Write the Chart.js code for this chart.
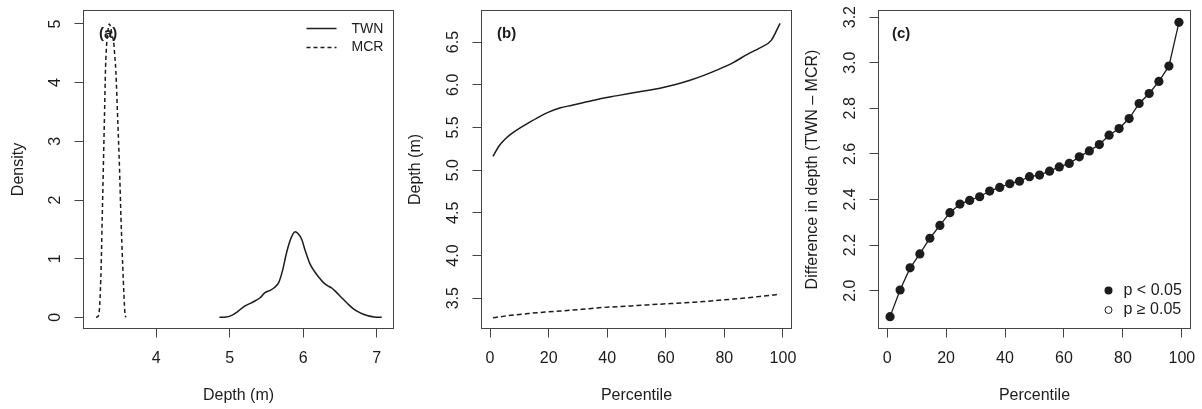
<!DOCTYPE html>
<html>
<head>
<meta charset="utf-8">
<title>Depth: TWN vs MCR</title>
<script src="https://cdn.jsdelivr.net/npm/chart.js@4.4.1/dist/chart.umd.min.js"></script>
<style>
  html, body { margin: 0; padding: 0; background: #fff; }
  #wrap { position: relative; width: 1202px; height: 409px; }
  canvas { position: absolute; top: 0; }
</style>
</head>
<body>
<div id="wrap">
  <canvas id="densityChart" width="400" height="409" style="left:0"></canvas>
  <canvas id="percentileChart" width="400" height="409" style="left:400px"></canvas>
  <canvas id="diffChart" width="402" height="409" style="left:800px"></canvas>
</div>
<script>
const FONT = "'Liberation Sans', Arial, Helvetica, sans-serif";
const INK = '#1c1c1c';
const FRAME = '#444';

// (a) density of depth
const twnDepth   = [4.86, 4.95, 5.02, 5.10, 5.18, 5.25, 5.33, 5.41, 5.48, 5.55, 5.61, 5.67, 5.72, 5.77, 5.82, 5.86, 5.89, 5.93, 5.98, 6.03, 6.09, 6.15, 6.21, 6.27, 6.33, 6.39, 6.45, 6.52, 6.60, 6.68, 6.77, 6.87, 6.97, 7.07];
const twnDensity = [0, 0.005, 0.03, 0.09, 0.17, 0.22, 0.27, 0.33, 0.42, 0.46, 0.51, 0.60, 0.80, 1.08, 1.30, 1.42, 1.46, 1.43, 1.33, 1.13, 0.92, 0.79, 0.69, 0.60, 0.54, 0.50, 0.43, 0.34, 0.24, 0.15, 0.08, 0.03, 0.005, 0];
const mcrDepth   = [3.18, 3.21, 3.23, 3.25, 3.265, 3.28, 3.295, 3.31, 3.325, 3.34, 3.36, 3.38, 3.40, 3.42, 3.43, 3.45, 3.475, 3.50, 3.52, 3.545, 3.56, 3.575, 3.59];
const mcrDensity = [0, 0.02, 0.2, 0.85, 1.7, 2.55, 3.4, 4.25, 4.65, 4.85, 5.0, 4.95, 4.8, 4.7, 4.55, 4.2, 3.4, 2.55, 1.7, 0.85, 0.4, 0.06, 0];
const depthTicks   = [4, 5, 6, 7];
const densityTicks = [0, 1, 2, 3, 4, 5];

// (b) depth at each percentile
const pctLine  = [1, 3, 5, 7, 10, 13, 16, 20, 24, 28, 33, 38, 43, 48, 53, 58, 63, 68, 73, 78, 83, 88, 92, 96, 99];
const twnByPct = [5.16, 5.28, 5.36, 5.42, 5.49, 5.55, 5.61, 5.68, 5.73, 5.76, 5.80, 5.84, 5.87, 5.90, 5.93, 5.96, 6.00, 6.05, 6.11, 6.18, 6.26, 6.36, 6.43, 6.52, 6.72];
const mcrByPct = [3.27, 3.28, 3.29, 3.30, 3.31, 3.32, 3.33, 3.34, 3.35, 3.36, 3.375, 3.39, 3.40, 3.41, 3.42, 3.43, 3.44, 3.45, 3.46, 3.475, 3.49, 3.505, 3.52, 3.535, 3.55];
const pctTicks      = [0, 20, 40, 60, 80, 100];
const depthPctTicks = [3.5, 4.0, 4.5, 5.0, 5.5, 6.0, 6.5];

// (c) TWN - MCR difference by percentile
const pctDiff   = [1, 4.4, 7.8, 11.1, 14.5, 17.9, 21.3, 24.7, 28, 31.4, 34.8, 38.2, 41.6, 44.9, 48.3, 51.7, 55.1, 58.4, 61.8, 65.2, 68.6, 72, 75.3, 78.7, 82.1, 85.5, 88.9, 92.2, 95.6, 99];
const depthDiff = [1.886, 2.003, 2.10, 2.161, 2.23, 2.286, 2.342, 2.38, 2.396, 2.412, 2.437, 2.453, 2.469, 2.48, 2.50, 2.507, 2.524, 2.543, 2.558, 2.587, 2.613, 2.641, 2.682, 2.711, 2.755, 2.821, 2.865, 2.918, 2.985, 3.177];
const diffTicks = [2.0, 2.2, 2.4, 2.6, 2.8, 3.0, 3.2];

const toXY = (xs, ys) => xs.map((x, i) => ({ x: x, y: ys[i] }));

Chart.defaults.font.family = FONT;
Chart.defaults.font.size = 16;
Chart.defaults.color = INK;

function fixedTicks(values) {
  return scale => { scale.ticks = values.map(v => ({ value: v })); };
}

// fixed scale size, and no extra room for overhanging labels
function fixSize(prop, size) {
  return s => {
    s[prop] = size;
    s.paddingTop = 0;
    s.paddingBottom = 0;
    s.paddingLeft = 0;
    s.paddingRight = 0;
  };
}

function xScale(min, max, ticks, title, height) {
  return {
    type: 'linear', position: 'bottom', min: min, max: max, bounds: 'data',
    afterBuildTicks: fixedTicks(ticks),
    afterFit: fixSize('height', height),
    border: { display: false },
    grid: { drawOnChartArea: false, drawTicks: true, tickLength: 9, color: FRAME },
    ticks: { autoSkip: false, minRotation: 0, maxRotation: 0, padding: 11 },
    title: { display: true, text: title, padding: { top: 0, bottom: 4 } }
  };
}

function yScale(min, max, ticks, digits, title, width, tickPad, titlePad) {
  return {
    type: 'linear', position: 'left', min: min, max: max, bounds: 'data',
    afterBuildTicks: fixedTicks(ticks),
    afterFit: fixSize('width', width),
    border: { display: false },
    grid: { drawOnChartArea: false, drawTicks: true, tickLength: 9, color: FRAME },
    ticks: {
      autoSkip: false, minRotation: 90, maxRotation: 90, crossAlign: 'center',
      padding: tickPad, callback: v => v.toFixed(digits)
    },
    title: { display: true, text: title, padding: { top: titlePad, bottom: 0 } }
  };
}

// box around the plot region
const framePlugin = {
  id: 'frame',
  afterDatasetsDraw(chart) {
    const { ctx, chartArea: a } = chart;
    ctx.save();
    ctx.strokeStyle = FRAME;
    ctx.lineWidth = 1;
    ctx.strokeRect(a.left, a.top, a.right - a.left, a.bottom - a.top);
    ctx.restore();
  }
};

function notes(draw) {
  return {
    id: 'notes',
    afterDraw(chart) {
      const { ctx, chartArea } = chart;
      ctx.save();
      ctx.fillStyle = INK;
      ctx.strokeStyle = INK;
      ctx.textBaseline = 'middle';
      ctx.textAlign = 'left';
      draw(ctx, chartArea);
      ctx.restore();
    }
  };
}

function panelTag(ctx, a, text, dx) {
  ctx.font = 'bold 15px ' + FONT;
  ctx.fillText(text, a.left + dx, a.top + 23);
}

function baseOptions(pad, scales) {
  return {
    responsive: false,
    devicePixelRatio: 1,
    animation: false,
    events: [],
    layout: { padding: pad },
    plugins: { legend: { display: false }, tooltip: { enabled: false } },
    scales: scales
  };
}

const lineStyle = { borderColor: INK, borderWidth: 1.5, pointRadius: 0, fill: false, cubicInterpolationMode: 'monotone' };

// (a)
new Chart(document.getElementById('densityChart'), {
  type: 'line',
  data: {
    datasets: [
      Object.assign({ label: 'TWN', data: toXY(twnDepth, twnDensity) }, lineStyle),
      Object.assign({ label: 'MCR', data: toXY(mcrDepth, mcrDensity), borderDash: [4, 3] }, lineStyle)
    ]
  },
  options: baseOptions({ top: 10.5, right: 6.5, bottom: 0, left: 0 }, {
    x: xScale(3.01, 7.23, depthTicks, 'Depth (m)', 80.5),
    y: yScale(-0.19, 5.23, densityTicks, 0, 'Density', 83.5, 14.5, 8.5)
  }),
  plugins: [framePlugin, notes((ctx, a) => {
    panelTag(ctx, a, '(a)', 15.5);
    ctx.lineWidth = 1.5;
    ctx.beginPath();
    ctx.moveTo(a.right - 87, a.top + 18);
    ctx.lineTo(a.right - 57, a.top + 18);
    ctx.stroke();
    ctx.setLineDash([4, 3]);
    ctx.beginPath();
    ctx.moveTo(a.right - 87, a.top + 37);
    ctx.lineTo(a.right - 57, a.top + 37);
    ctx.stroke();
    ctx.font = "14px 'Liberation Sans Narrow', " + FONT;
    ctx.fillText('TWN', a.right - 42, a.top + 19);
    ctx.fillText('MCR', a.right - 42, a.top + 37);
  })]
});

// (b)
new Chart(document.getElementById('percentileChart'), {
  type: 'line',
  data: {
    datasets: [
      Object.assign({ label: 'TWN', data: toXY(pctLine, twnByPct) }, lineStyle),
      Object.assign({ label: 'MCR', data: toXY(pctLine, mcrByPct), borderDash: [5, 3] }, lineStyle)
    ]
  },
  options: baseOptions({ top: 10.5, right: 8.5, bottom: 0, left: 0 }, {
    x: xScale(-2.92, 102.92, pctTicks, 'Percentile', 80.5),
    y: yScale(3.145, 6.87, depthPctTicks, 1, 'Depth (m)', 81.5, 8, 6)
  }),
  plugins: [framePlugin, notes((ctx, a) => panelTag(ctx, a, '(b)', 15.5))]
});

// (c)
new Chart(document.getElementById('diffChart'), {
  type: 'line',
  data: {
    datasets: [{
      label: 'p < 0.05',
      data: toXY(pctDiff, depthDiff),
      borderColor: INK, backgroundColor: INK, borderWidth: 1.3,
      pointRadius: 4.6, pointBorderWidth: 0, tension: 0, fill: false
    }]
  },
  options: baseOptions({ top: 10.5, right: 11.5, bottom: 0, left: 0 }, {
    x: xScale(-2.92, 102.92, pctTicks, 'Percentile', 80.5),
    y: yScale(1.834, 3.229, diffTicks, 1, 'Difference in depth (TWN \u2013 MCR)', 78.5, 8, 2.5)
  }),
  plugins: [framePlugin, notes((ctx, a) => {
    panelTag(ctx, a, '(c)', 13.5);
    const cx = a.right - 82;
    ctx.beginPath();
    ctx.arc(cx, a.bottom - 38, 4, 0, Math.PI * 2);
    ctx.fill();
    ctx.lineWidth = 1;
    ctx.beginPath();
    ctx.arc(cx, a.bottom - 18.5, 3.5, 0, Math.PI * 2);
    ctx.stroke();
    ctx.font = '16px ' + FONT;
    ctx.fillText('p < 0.05', a.right - 67, a.bottom - 38);
    ctx.fillText('p \u2265 0.05', a.right - 67, a.bottom - 18.5);
  })]
});
</script>
</body>
</html>
